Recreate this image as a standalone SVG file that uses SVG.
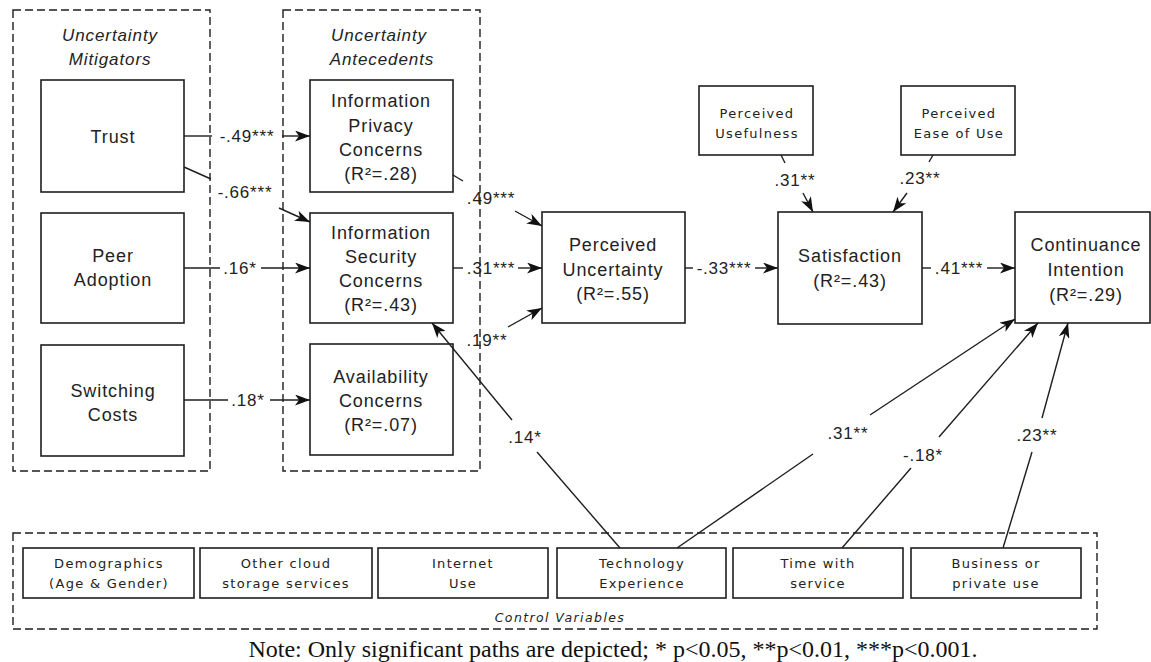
<svg xmlns="http://www.w3.org/2000/svg" width="1151" height="662" viewBox="0 0 1151 662">
<style>
.bx{fill:#fff;stroke:#1e1e1e;stroke-width:1.6}
.dash{fill:none;stroke:#1e1e1e;stroke-width:1.4;stroke-dasharray:8,4}
.t{font-family:"Liberation Sans",Arial,sans-serif;font-size:18px;letter-spacing:0.9px;fill:#222;text-anchor:middle}
.ti{font-family:"Liberation Sans",Arial,sans-serif;font-size:17px;letter-spacing:0.9px;font-style:italic;fill:#222;text-anchor:middle}
.s{font-family:"DejaVu Sans",Verdana,sans-serif;font-size:13px;letter-spacing:1.3px;fill:#222;text-anchor:middle}
.si{font-family:"DejaVu Sans",Verdana,sans-serif;font-size:12.5px;letter-spacing:1.4px;font-style:italic;fill:#222;text-anchor:middle}
.lb{font-family:"Liberation Sans",Arial,sans-serif;font-size:17px;letter-spacing:0.8px;fill:#222;text-anchor:middle}
.ln{fill:none;stroke:#1e1e1e;stroke-width:1.4}
.note{font-family:"Liberation Serif","Times New Roman",serif;font-size:24px;fill:#111;text-anchor:middle}
</style>
<defs>
<marker id="ah" viewBox="0 0 15 11" refX="15" refY="5.5" markerWidth="15" markerHeight="11" markerUnits="userSpaceOnUse" orient="auto">
<path d="M0,0 L15,5.5 L0,11 L4,5.5 z" fill="#111"/>
</marker>
</defs>

<g id="group-mitigators">
<rect class="dash" x="13" y="10" width="197" height="461"/>
<text class="ti" x="110" y="41">Uncertainty</text>
<text class="ti" x="110" y="65">Mitigators</text>
</g>
<g id="group-antecedents">
<rect class="dash" x="283" y="10" width="197" height="461"/>
<text class="ti" x="379" y="41">Uncertainty</text>
<text class="ti" x="382" y="65">Antecedents</text>
</g>
<g id="group-controls">
<rect class="dash" x="13" y="533" width="1084" height="96"/>
<text class="si" x="560" y="622">Control Variables</text>
</g>

<g id="trust"><rect class="bx" x="41" y="80" width="143" height="112"/><text class="t" x="113" y="143">Trust</text></g>
<g id="peer"><rect class="bx" x="41" y="213" width="143" height="110"/><text class="t" x="113" y="262">Peer</text><text class="t" x="113" y="286">Adoption</text></g>
<g id="switching"><rect class="bx" x="41" y="345" width="143" height="111"/><text class="t" x="113" y="397">Switching</text><text class="t" x="113" y="421">Costs</text></g>

<g id="privacy"><rect class="bx" x="310" y="80" width="143" height="112"/><text class="t" x="381" y="107">Information</text><text class="t" x="381" y="132">Privacy</text><text class="t" x="381" y="156">Concerns</text><text class="t" x="381" y="180">(R²=.28)</text></g>
<g id="security"><rect class="bx" x="310" y="213" width="143" height="110"/><text class="t" x="381" y="239">Information</text><text class="t" x="381" y="263">Security</text><text class="t" x="381" y="287">Concerns</text><text class="t" x="381" y="311">(R²=.43)</text></g>
<g id="availability"><rect class="bx" x="310" y="344" width="143" height="111"/><text class="t" x="381" y="383">Availability</text><text class="t" x="381" y="407">Concerns</text><text class="t" x="381" y="431">(R²=.07)</text></g>

<g id="uncertainty"><rect class="bx" x="542" y="212" width="143" height="111"/><text class="t" x="613" y="251">Perceived</text><text class="t" x="613" y="276">Uncertainty</text><text class="t" x="613" y="300">(R²=.55)</text></g>
<g id="satisfaction"><rect class="bx" x="778" y="212" width="144" height="112"/><text class="t" x="850" y="262">Satisfaction</text><text class="t" x="850" y="287">(R²=.43)</text></g>
<g id="continuance"><rect class="bx" x="1015" y="212" width="135" height="111"/><text class="t" x="1086" y="251">Continuance</text><text class="t" x="1086" y="276">Intention</text><text class="t" x="1086" y="301">(R²=.29)</text></g>

<g id="usefulness"><rect class="bx" x="699" y="86" width="114" height="69"/><text class="s" x="757" y="118">Perceived</text><text class="s" x="757" y="138">Usefulness</text></g>
<g id="ease"><rect class="bx" x="901" y="86" width="114" height="69"/><text class="s" x="959" y="118">Perceived</text><text class="s" x="959" y="138">Ease of Use</text></g>

<g id="demographics"><rect class="bx" x="23" y="548" width="171" height="50"/><text class="s" x="109" y="568">Demographics</text><text class="s" x="109" y="588">(Age &amp; Gender)</text></g>
<g id="othercloud"><rect class="bx" x="200" y="548" width="172" height="50"/><text class="s" x="286" y="568">Other cloud</text><text class="s" x="286" y="588">storage services</text></g>
<g id="internet"><rect class="bx" x="378" y="548" width="170" height="50"/><text class="s" x="463" y="568">Internet</text><text class="s" x="463" y="588">Use</text></g>
<g id="techexp"><rect class="bx" x="557" y="548" width="169" height="50"/><text class="s" x="642" y="568">Technology</text><text class="s" x="642" y="588">Experience</text></g>
<g id="timewith"><rect class="bx" x="733" y="548" width="170" height="50"/><text class="s" x="818" y="568">Time with</text><text class="s" x="818" y="588">service</text></g>
<g id="business"><rect class="bx" x="911" y="548" width="170" height="50"/><text class="s" x="996" y="568">Business or</text><text class="s" x="996" y="588">private use</text></g>

<g id="connectors">
<line class="ln" x1="184" y1="136" x2="212" y2="136"/><line class="ln" x1="282" y1="136" x2="310" y2="136" marker-end="url(#ah)"/>
<text class="lb" x="247" y="142">-.49***</text>
<line class="ln" x1="184" y1="167" x2="211" y2="179"/><line class="ln" x1="279" y1="208" x2="310" y2="222" marker-end="url(#ah)"/>
<text class="lb" x="245" y="198">-.66***</text>
<line class="ln" x1="184" y1="268" x2="220" y2="268"/><line class="ln" x1="261" y1="268" x2="310" y2="268" marker-end="url(#ah)"/>
<text class="lb" x="240" y="274">.16*</text>
<line class="ln" x1="184" y1="400" x2="228" y2="400"/><line class="ln" x1="270" y1="400" x2="310" y2="400" marker-end="url(#ah)"/>
<text class="lb" x="248" y="406">.18*</text>

<line class="ln" x1="453" y1="175" x2="463" y2="181"/><line class="ln" x1="515" y1="211" x2="542" y2="226" marker-end="url(#ah)"/>
<text class="lb" x="491" y="204">.49***</text>
<line class="ln" x1="453" y1="268" x2="463" y2="268"/><line class="ln" x1="518" y1="268" x2="542" y2="268" marker-end="url(#ah)"/>
<text class="lb" x="491" y="274">.31***</text>
<line class="ln" x1="508" y1="327" x2="542" y2="308" marker-end="url(#ah)"/>
<text class="lb" x="487" y="346">.19**</text>

<line class="ln" x1="685" y1="268" x2="693" y2="268"/><line class="ln" x1="755" y1="268" x2="778" y2="268" marker-end="url(#ah)"/>
<text class="lb" x="724" y="274">-.33***</text>
<line class="ln" x1="922" y1="268" x2="931" y2="268"/><line class="ln" x1="987" y1="268" x2="1015" y2="268" marker-end="url(#ah)"/>
<text class="lb" x="959" y="274">.41***</text>

<line class="ln" x1="781" y1="155" x2="785" y2="163"/><line class="ln" x1="803" y1="193" x2="813" y2="212" marker-end="url(#ah)"/>
<text class="lb" x="795" y="186">.31**</text>
<line class="ln" x1="933" y1="155" x2="929" y2="162"/><line class="ln" x1="907" y1="193" x2="893" y2="212" marker-end="url(#ah)"/>
<text class="lb" x="920" y="184">.23**</text>

<line class="ln" x1="620" y1="548" x2="537" y2="452"/><line class="ln" x1="512" y1="420" x2="432" y2="323" marker-end="url(#ah)"/>
<text class="lb" x="525" y="443">.14*</text>
<line class="ln" x1="677" y1="548" x2="813" y2="454"/><line class="ln" x1="870" y1="415" x2="1015" y2="319" marker-end="url(#ah)"/>
<text class="lb" x="848" y="439">.31**</text>
<line class="ln" x1="842" y1="548" x2="911" y2="468"/><line class="ln" x1="939" y1="437" x2="1038" y2="323" marker-end="url(#ah)"/>
<text class="lb" x="923" y="461">-.18*</text>
<line class="ln" x1="1003" y1="548" x2="1032" y2="452"/><line class="ln" x1="1042" y1="418" x2="1068" y2="323" marker-end="url(#ah)"/>
<text class="lb" x="1037" y="441">.23**</text>
</g>

<text class="note" x="613" y="657">Note: Only significant paths are depicted; * p&lt;0.05, **p&lt;0.01, ***p&lt;0.001.</text>
</svg>
